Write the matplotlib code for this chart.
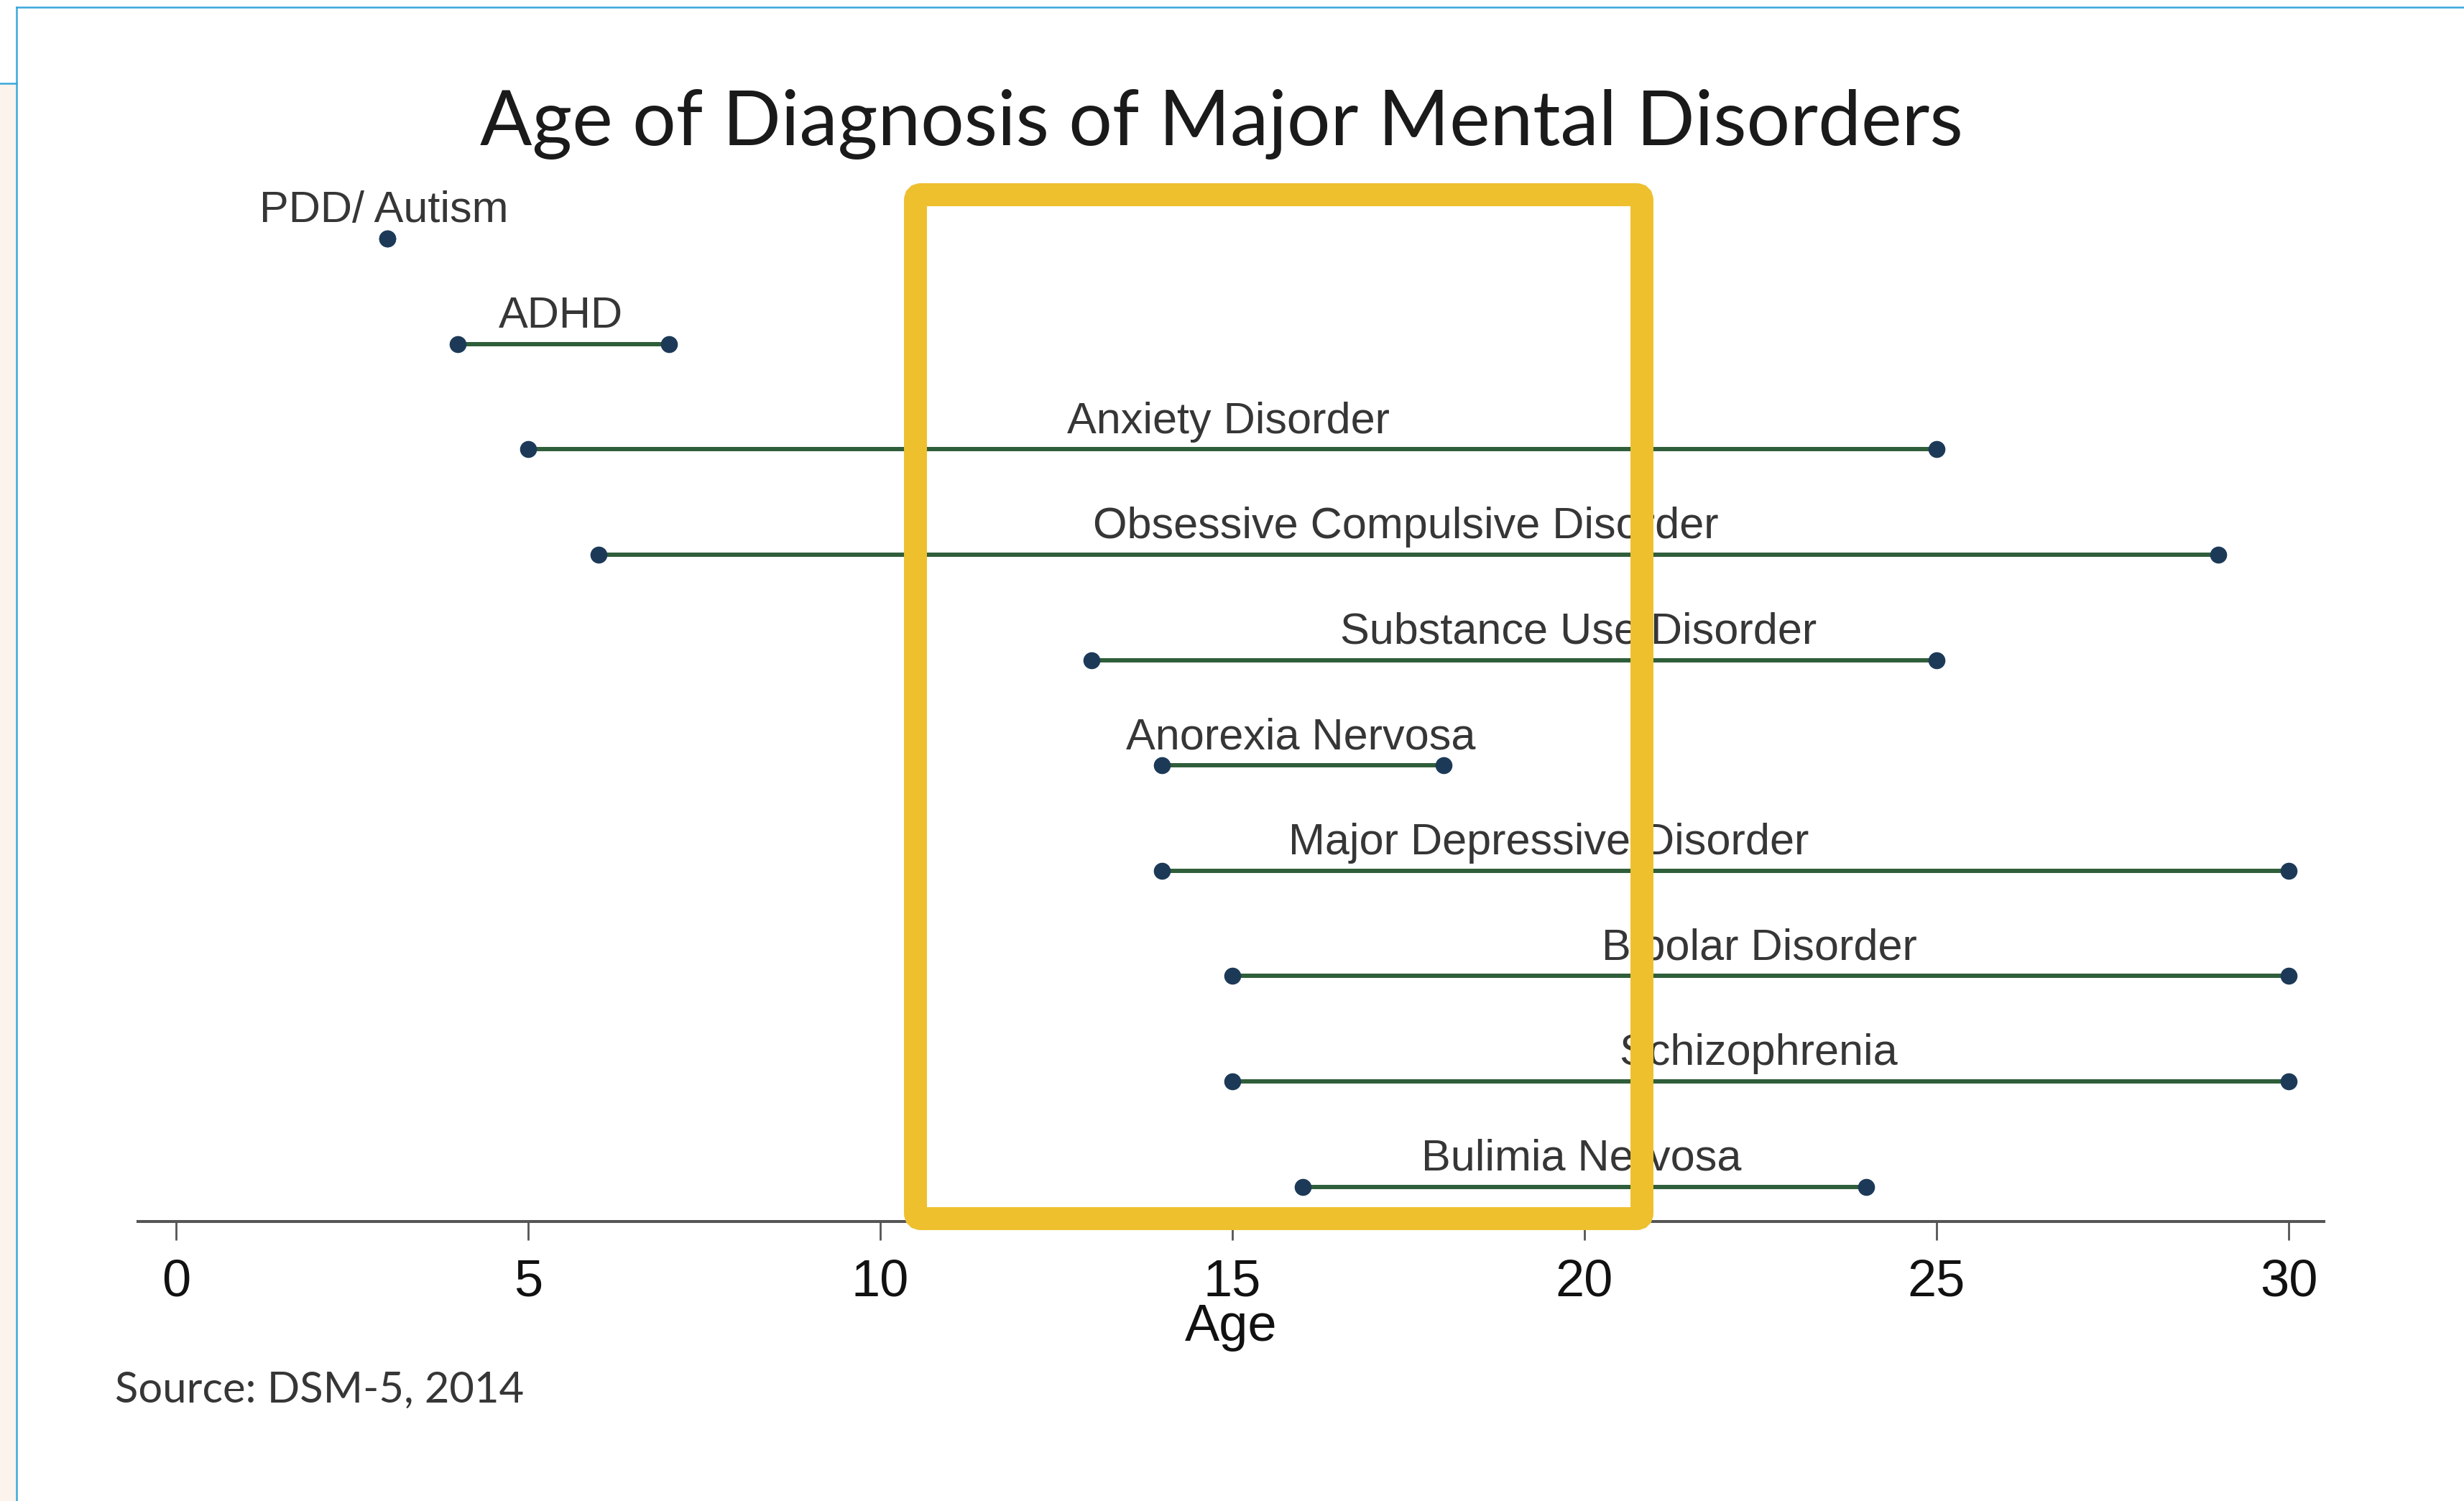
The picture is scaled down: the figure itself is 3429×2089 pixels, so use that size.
import numpy as np
import matplotlib
matplotlib.use("Agg")
from matplotlib import pyplot as plt
from matplotlib.patches import FancyBboxPatch, Rectangle
from matplotlib.lines import Line2D

disorders = ["PDD/ Autism", "ADHD", "Anxiety Disorder", "Obsessive Compulsive Disorder",
             "Substance Use Disorder", "Anorexia Nervosa", "Major Depressive Disorder",
             "Bipolar Disorder", "Schizophrenia", "Bulimia Nervosa"]
age_start = [3, 4, 5, 6, 13, 14, 14, 15, 15, 16]
age_end = [3, 7, 25, 29, 25, 18, 30, 30, 30, 24]
label_age = [2.95, 5.46, 14.94, 17.46, 19.91, 15.97, 19.49, 22.48, 22.47, 19.96]
age_ticks = [0, 5, 10, 15, 20, 25, 30]

W, H = 3430, 2089
fig = plt.figure(figsize=(W / 100, H / 100), dpi=100)
fig.patch.set_facecolor("white")

def fx(px):
    return px / W

def fy(py):
    return 1 - py / H

ax = fig.add_axes([fx(192), fy(1700), fx(3234) - fx(192), fy(259) - fy(1700)])
rows = np.arange(len(disorders))

line_col = "#2f5e3a"
dot_col = "#1c3a58"
text_col = "#363636"

for i, row in enumerate(rows):
    ax.plot([age_start[i], age_end[i]], [row, row], color=line_col, lw=4.3,
            solid_capstyle="butt", zorder=2)
    ax.plot([age_start[i], age_end[i]], [row, row], ls="none", marker="o",
            ms=16, color=dot_col, zorder=3)
    ax.annotate(disorders[i], (label_age[i], row), xytext=(0, 16.5),
                textcoords="offset points", ha="center", va="baseline",
                fontsize=44, family="Liberation Sans", color=text_col)

ax.set_xlim(-0.54, 30.5)
ax.set_ylim(9.33, -0.5)
ax.set_xticks(age_ticks)
ax.set_xticklabels([str(t) for t in age_ticks], family="Liberation Sans")
ax.set_yticks([])
for s in ["top", "left", "right"]:
    ax.spines[s].set_visible(False)
ax.spines["bottom"].set_color("#555555")
ax.spines["bottom"].set_linewidth(2.9)
ax.tick_params(axis="x", length=19, width=2, color="#555555", labelsize=52,
               pad=18, labelcolor="#111111")
ax.set_xlabel("Age", fontsize=52, family="Liberation Sans", color="#111111",
              labelpad=-3)

fig.text(fx(1700), fy(202), "Age of Diagnosis of Major Mental Disorders",
         ha="center", va="baseline", fontsize=77, family="Lato", color="#1a1a1a")
fig.text(fx(160), fy(1952), "Source: DSM-5, 2014", ha="left", va="baseline",
         fontsize=43, family="Lato", color=text_col)

# highlight box
box = FancyBboxPatch((12.74, (H - 1696) / 100), 22.85 - 12.74, (1696 - 271) / 100,
                     boxstyle="round,pad=0,rounding_size=0.08",
                     transform=fig.dpi_scale_trans, fill=False,
                     edgecolor="#eec02e", linewidth=23, zorder=10)
fig.add_artist(box)

# screenshot frame
blue = "#3aa8dc"
fig.add_artist(Rectangle((0, 0), fx(22), fy(116), transform=fig.transFigure,
                         facecolor="#fcf3ec", edgecolor="none", zorder=0))
fig.add_artist(Line2D([fx(23), 1], [fy(10), fy(10)], transform=fig.transFigure,
                      color=blue, lw=1.8))
fig.add_artist(Line2D([fx(23), fx(23)], [fy(10), 0], transform=fig.transFigure,
                      color=blue, lw=1.8))
fig.add_artist(Line2D([0, fx(23)], [fy(116), fy(116)], transform=fig.transFigure,
                      color=blue, lw=1.8))

fig.savefig("out.png", dpi=100, facecolor="white")
